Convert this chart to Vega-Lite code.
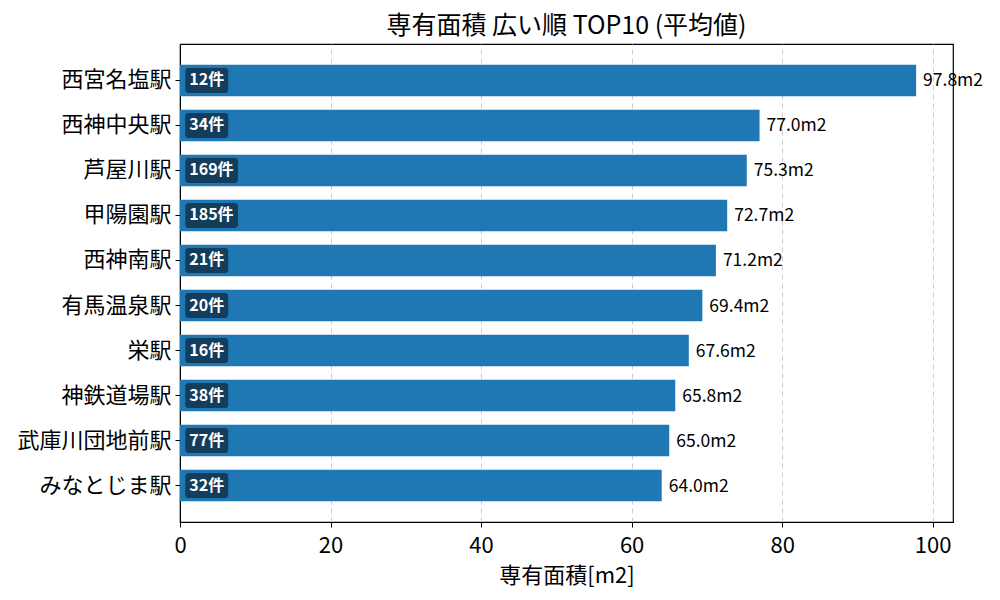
{
  "$schema": "https://vega.github.io/schema/vega-lite/v6.json",
  "autosize": {"type": "none"},
  "width": 773,
  "height": 478,
  "padding": {"left": 180, "top": 44, "right": 47, "bottom": 78},
  "config": {
    "font": "Noto Sans CJK JP",
    "view": {"stroke": "#000000", "strokeWidth": 1.2},
    "axis": {
      "labelFont": "Noto Sans CJK JP",
      "titleFont": "Noto Sans CJK JP",
      "labelColor": "#000000",
      "titleColor": "#000000",
      "domainColor": "#000000",
      "tickColor": "#000000",
      "labelFontSize": 22,
      "titleFontSize": 22,
      "titleFontWeight": "normal",
      "tickSize": 5,
      "labelFlush": false
    }
  },
  "title": {
    "text": "専有面積 広い順 TOP10 (平均値)",
    "font": "Noto Sans CJK JP",
    "fontSize": 25,
    "fontWeight": "normal",
    "color": "#000000",
    "anchor": "middle",
    "offset": 5
  },
  "data": {
    "values": [
      {"station": "西宮名塩駅", "area": 97.8, "count": 12},
      {"station": "西神中央駅", "area": 77.0, "count": 34},
      {"station": "芦屋川駅", "area": 75.3, "count": 169},
      {"station": "甲陽園駅", "area": 72.7, "count": 185},
      {"station": "西神南駅", "area": 71.2, "count": 21},
      {"station": "有馬温泉駅", "area": 69.4, "count": 20},
      {"station": "栄駅", "area": 67.6, "count": 16},
      {"station": "神鉄道場駅", "area": 65.8, "count": 38},
      {"station": "武庫川団地前駅", "area": 65.0, "count": 77},
      {"station": "みなとじま駅", "area": 64.0, "count": 32}
    ]
  },
  "transform": [
    {"calculate": "format(datum.area, '.1f') + 'm2'", "as": "valueLabel"},
    {"calculate": "datum.count + '件'", "as": "countLabel"},
    {"calculate": "0.7", "as": "badgeStart"},
    {"calculate": "datum.count >= 100 ? 7.7 : 6.4", "as": "badgeEnd"}
  ],
  "encoding": {
    "y": {
      "field": "station",
      "type": "nominal",
      "sort": null,
      "title": null,
      "scale": {"paddingInner": 0.3, "paddingOuter": 0.46},
      "axis": {"labelPadding": 4, "grid": false}
    }
  },
  "layer": [
    {
      "mark": {"type": "bar", "color": "#1f77b4"},
      "encoding": {
        "x": {
          "field": "area",
          "type": "quantitative",
          "title": "専有面積[m2]",
          "scale": {"domain": [0, 102.7], "nice": false},
          "axis": {
            "values": [0, 20, 40, 60, 80, 100],
            "grid": true,
            "gridDash": [5, 4],
            "gridColor": "#cccccc",
            "gridWidth": 1,
            "labelPadding": 8,
            "titlePadding": 9
          }
        }
      }
    },
    {
      "mark": {"type": "bar", "color": "#143c5b", "height": 25, "cornerRadius": 3},
      "encoding": {
        "x": {"field": "badgeStart", "type": "quantitative"},
        "x2": {"field": "badgeEnd"}
      }
    },
    {
      "mark": {
        "type": "text",
        "align": "left",
        "baseline": "middle",
        "dx": 4,
        "dy": 0,
        "color": "#ffffff",
        "fontSize": 16,
        "fontWeight": "bold"
      },
      "encoding": {
        "x": {"field": "badgeStart", "type": "quantitative"},
        "text": {"field": "countLabel"}
      }
    },
    {
      "mark": {
        "type": "text",
        "align": "left",
        "baseline": "middle",
        "dx": 7,
        "dy": 1,
        "color": "#000000",
        "fontSize": 17.5
      },
      "encoding": {
        "x": {"field": "area", "type": "quantitative"},
        "text": {"field": "valueLabel"}
      }
    }
  ]
}
